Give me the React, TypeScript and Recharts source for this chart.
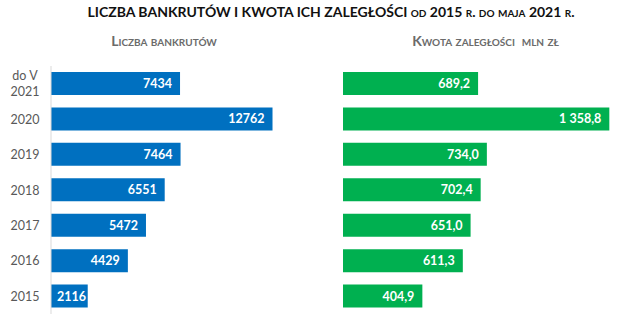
import { BarChart, Bar, XAxis, YAxis, LabelList } from 'recharts';

const periods = ['do V\n2021', '2020', '2019', '2018', '2017', '2016', '2015'];
const bankruptcies = [7434, 12762, 7464, 6551, 5472, 4429, 2116];
const arrears = [689.2, 1358.8, 734.0, 702.4, 651.0, 611.3, 404.9];

const data = periods.map((p, i) => ({ period: p, count: bankruptcies[i], amount: arrears[i] }));

const FONT = 'Lato, "Open Sans", sans-serif';
const BLUE = '#0070c0';
const GREEN = '#00b050';

const fmtAmount = (v: number) => {
  const [int, dec] = v.toFixed(1).split('.');
  return int.replace(/\B(?=(\d{3})+(?!\d))/g, ' ') + ',' + dec;
};

function PeriodTick({ y, payload }: any) {
  const lines = String(payload.value).split('\n');
  const start = -((lines.length - 1) * 16) / 2;
  return (
    <text x={25} y={y} textAnchor="middle" fill="#595959" fontSize={12.5} fontFamily={FONT}>
      {lines.map((l, i) => (
        <tspan key={i} x={25} dy={i === 0 ? start + 4.5 : 16}>{l}</tspan>
      ))}
    </text>
  );
}

// inside-end label; if it does not fit, start it just inside the bar
const makeLabel = (fmt: (v: number) => string) => (props: any) => {
  const { x, y, width, height, value } = props;
  const txt = fmt(Number(value));
  const w = txt.length * 7.1;
  const fits = w + 14 <= width;
  return (
    <text
      x={fits ? x + width - 8 : x + 6}
      y={y + height / 2 + 4.5}
      textAnchor={fits ? 'end' : 'start'}
      fill="#fff"
      fontWeight={700}
      fontSize={12.5}
      fontFamily={FONT}
    >
      {txt}
    </text>
  );
};

export default function App() {
  return (
    <div style={{ position: 'absolute', left: 0, top: 0, width: 640, height: 324, background: '#fff', fontFamily: FONT }}>
      <div style={{ position: 'absolute', left: 0, width: 662, top: 3, textAlign: 'center', fontWeight: 700, fontSize: 14, color: '#111', whiteSpace: 'nowrap' }}>
        LICZBA BANKRUTÓW I KWOTA ICH ZALEGŁOŚCI{' '}
        <span style={{ fontVariant: 'small-caps' }}>od 2015 r. do maja 2021 r.</span>
      </div>
      <div style={{ position: 'absolute', left: 0, width: 328, top: 32, textAlign: 'center', fontWeight: 700, fontSize: 14, color: '#6b6b6b', fontVariant: 'small-caps', whiteSpace: 'nowrap' }}>
        Liczba bankrutów
      </div>
      <div style={{ position: 'absolute', left: 320, width: 331, top: 32, textAlign: 'center', fontWeight: 700, fontSize: 14, color: '#6b6b6b', fontVariant: 'small-caps', whiteSpace: 'pre' }}>
        {'Kwota zaległości  mln zł'}
      </div>

      <div style={{ position: 'absolute', left: 0, top: 0 }}>
        <BarChart width={320} height={324} data={data} layout="vertical" margin={{ top: 66, bottom: 10, left: 0, right: 26 }}>
          <XAxis type="number" hide domain={[0, 14000]} />
          <YAxis type="category" dataKey="period" width={51} axisLine={{ stroke: '#d9d9d9' }} tickLine={false} tick={<PeriodTick />} interval={0} />
          <Bar dataKey="count" fill={BLUE} barSize={23} isAnimationActive={false}>
            <LabelList dataKey="count" content={makeLabel((v) => String(v))} />
          </Bar>
        </BarChart>
      </div>

      <div style={{ position: 'absolute', left: 320, top: 0 }}>
        <BarChart width={320} height={324} data={data} layout="vertical" margin={{ top: 66, bottom: 10, left: 23, right: 3 }}>
          <XAxis type="number" hide domain={[0, 1500]} />
          <YAxis type="category" dataKey="period" hide width={0} />
          <Bar dataKey="amount" fill={GREEN} barSize={23} isAnimationActive={false}>
            <LabelList dataKey="amount" content={makeLabel(fmtAmount)} />
          </Bar>
        </BarChart>
      </div>
    </div>
  );
}
